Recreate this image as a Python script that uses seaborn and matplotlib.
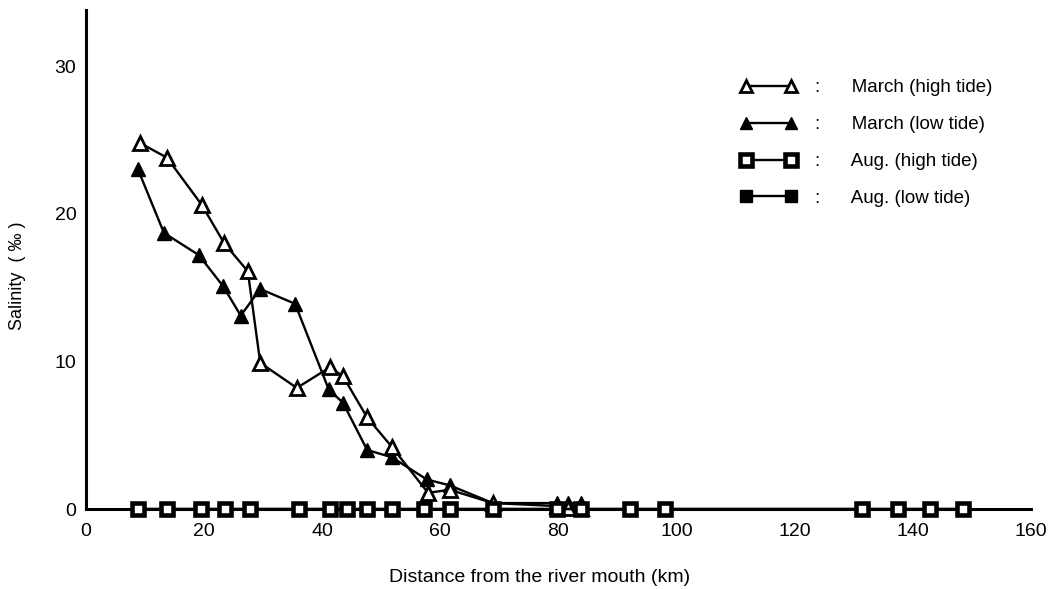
import matplotlib
matplotlib.use("Agg")
import matplotlib.pyplot as plt
import seaborn as sns
import numpy as np

# ---- data ----
march_high_x = [9.1, 13.7, 19.6, 23.4, 27.4, 29.5, 35.7, 41.3, 43.5, 47.6, 51.8, 57.9, 61.6, 68.9, 79.7, 81.6, 83.8]
march_high_y = [24.8, 23.8, 20.6, 18.0, 16.1, 9.9, 8.2, 9.6, 9.0, 6.2, 4.2, 1.1, 1.3, 0.4, 0.2, 0.1, 0.1]

march_low_x = [8.8, 13.2, 19.1, 23.2, 26.2, 29.5, 35.4, 41.1, 43.5, 47.6, 51.8, 57.7, 61.6, 68.9, 79.7, 81.6, 83.8]
march_low_y = [23.0, 18.7, 17.2, 15.1, 13.1, 14.9, 13.9, 8.1, 7.2, 4.0, 3.5, 2.0, 1.6, 0.4, 0.4, 0.4, 0.4]

aug_x = [8.8, 13.7, 19.5, 23.5, 27.8, 36.1, 41.3, 44.2, 47.6, 51.8, 57.2, 61.6, 68.9, 79.7, 83.8,
         92.1, 98.0, 131.4, 137.5, 142.9, 148.5]
aug_high_y = [0.0] * len(aug_x)
aug_low_y = [0.0] * len(aug_x)

labels = ["March (high tide)", "March (low tide)", "Aug. (high tide)", "Aug. (low tide)"]
x_ticks = [0, 20, 40, 60, 80, 100, 120, 140, 160]
y_ticks = [0, 10, 20, 30]

# ---- style ----
sns.set_style("white")
plt.rcParams["font.family"] = ["Liberation Sans", "DejaVu Sans"]
plt.rcParams["text.color"] = "black"
plt.rcParams["xtick.color"] = "black"
plt.rcParams["ytick.color"] = "black"

W, H = 1062, 589
fig = plt.figure(figsize=(W / 100, H / 100), dpi=100)
ax = fig.add_axes([86 / W, 80 / H, (1031 - 86) / W, (509 - 10) / H])

common = dict(color="black", linewidth=1.7, clip_on=False, ax=ax, sort=False)

sns.lineplot(x=march_high_x, y=march_high_y, marker="^", markersize=10,
             markerfacecolor="white", markeredgecolor="black", markeredgewidth=2.0,
             label=labels[0], zorder=4, **common)
sns.lineplot(x=march_low_x, y=march_low_y, marker="^", markersize=10,
             markerfacecolor="black", markeredgecolor="black", markeredgewidth=1.0,
             label=labels[1], zorder=3, **common)
sns.lineplot(x=aug_x, y=aug_low_y, marker="s", markersize=9,
             markerfacecolor="black", markeredgecolor="black", markeredgewidth=1.0,
             label=labels[3], zorder=5, **common)
sns.lineplot(x=aug_x, y=aug_high_y, marker="s", markersize=9,
             markerfacecolor="white", markeredgecolor="black", markeredgewidth=3.3,
             label=labels[2], zorder=6, **common)

ax.set_xlim(0, 160)
ax.set_ylim(0, 33.8)
ax.set_xticks(x_ticks)
ax.set_yticks(y_ticks)
ax.set_xticklabels([str(t) for t in x_ticks])
ax.set_yticklabels([str(t) for t in y_ticks])
ax.tick_params(axis="x", direction="in", length=11, width=1.7, pad=10, labelsize=14)
ax.tick_params(axis="y", direction="in", length=8, width=1.7, pad=7, labelsize=14)
for s in ["top", "right"]:
    ax.spines[s].set_visible(False)
for s in ["left", "bottom"]:
    ax.spines[s].set_color("black")
    ax.spines[s].set_linewidth(2.2)
ax.set_xlabel("")
ax.set_ylabel("")

fig.text(18 / W, 1 - 276 / H, "Salinity  ( ‰ )", rotation=90, ha="center", va="center", fontsize=13)
fig.text(540 / W, 1 - 577 / H, "Distance from the river mouth (km)", ha="center", va="center", fontsize=14)

# legend in the order of the reference
handles, labs = ax.get_legend_handles_labels()
order = [labs.index(l) for l in labels]
leg = ax.legend([handles[i] for i in order],
                [":      " + labels[k] for k in range(4)],
                loc="upper left", bbox_to_anchor=(731 / W, 1 - 70 / H),
                bbox_transform=fig.transFigure, frameon=False, fontsize=13.5,
                numpoints=2, handlelength=3.0, handletextpad=1.0,
                labelspacing=1.05, borderpad=0)
for h in leg.legend_handles:
    h.set_markersize(9)

fig.savefig("out.png", dpi=100, facecolor="white")
